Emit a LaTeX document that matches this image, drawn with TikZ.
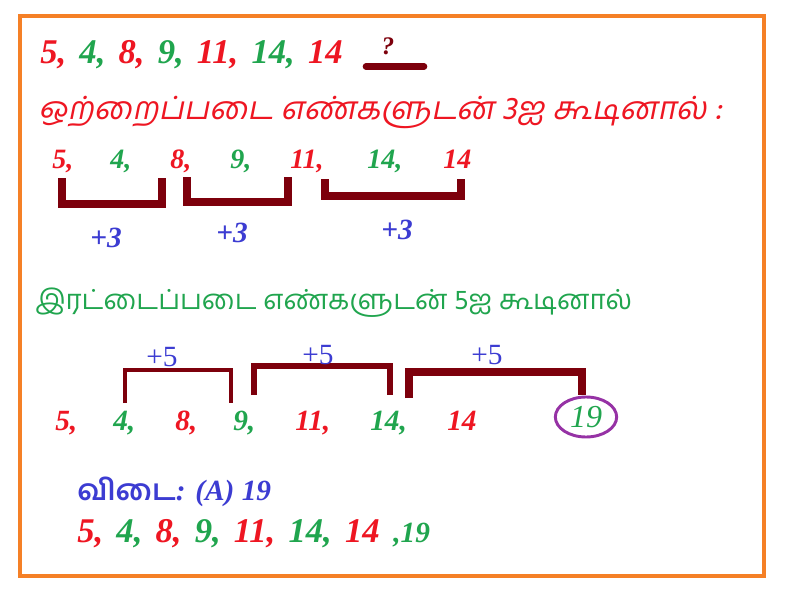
\documentclass[tikz,border=0pt]{standalone}
\usepackage{fontspec}
\setmainfont{Liberation Serif}
\newfontfamily\tamilfont[Script=Tamil]{Hind Madurai}
\newfontfamily\tamilslant[Script=Tamil,FakeSlant=0.2]{Hind Madurai}
\usetikzlibrary{shapes.geometric}

\definecolor{numred}{RGB}{238,22,34}
\definecolor{numgreen}{RGB}{32,165,78}
\definecolor{addblue}{RGB}{60,60,210}
\definecolor{darkred}{RGB}{125,0,12}
\definecolor{ringpurple}{RGB}{150,50,165}
\definecolor{frameorange}{RGB}{245,128,38}

\newcommand{\numr}[1]{\textcolor{numred}{#1}}
\newcommand{\numg}[1]{\textcolor{numgreen}{#1}}

\begin{document}
\begin{tikzpicture}[x=0.75pt,y=-0.75pt,
      every node/.style={inner sep=0pt},
      seq/.style={anchor=base west,
        font=\fontsize{26}{26}\selectfont\bfseries\itshape,
        execute at begin node={\spaceskip=0.38em\relax}},
      num/.style={anchor=base west,font=\fontsize{21}{21}\selectfont\bfseries\itshape},
      numlow/.style={anchor=base west,font=\fontsize{22}{22}\selectfont\bfseries\itshape},
      plusthree/.style={text=addblue,font=\fontsize{22}{22}\selectfont\bfseries\itshape},
      plusfive/.style={text=addblue,font=\fontsize{22}{22}\selectfont},
      bracket/.style={draw=darkred,line width=6pt},
      bracketthin/.style={draw=darkred,line width=3.5pt}]
    \useasboundingbox (0,0) rectangle (800,600);
    \fill[white] (0,0) rectangle (800,600);
    \draw[frameorange,line width=3pt] (20,16) rectangle (764,576);

    % the series and the blank
    \node[seq] (series) at (40,63)
      {\numr{5,} \numg{4,} \numr{8,} \numg{9,} \numr{11,} \numg{14,} \numr{14}};
    \draw[darkred,line width=5pt,line cap=round] (366,66.5) -- (424,66.5);
    \node[text=darkred,font=\fontsize{19}{19}\selectfont\bfseries\itshape]
      (blank) at (388,46) {?};

    % odd places: add 3
    \node[anchor=base west,text=numred,font=\fontsize{24}{24}\tamilslant]
      (oddtitle) at (38,119) {ஒற்றைப்படை எண்களுடன் 3ஐ கூடினால் :};

    \node[num,text=numred] (oa) at (52,168) {5,};
    \node[num,text=numgreen] (ob) at (110,168) {4,};
    \node[num,text=numred] (oc) at (170,168) {8,};
    \node[num,text=numgreen] (od) at (230,168) {9,};
    \node[num,text=numred] (oe) at (290,168) {11,};
    \node[num,text=numgreen] (of) at (367,168) {14,};
    \node[num,text=numred] (og) at (443,168) {14};

    \draw[bracket] (62,178) -- (62,203.5) -- (162,203.5) -- (162,178);
    \draw[bracket] (187,177) -- (187,201.5) -- (288,201.5) -- (288,177);
    \draw[bracket] (325,179) -- (325,195.5) -- (461,195.5) -- (461,179);

    \node[plusthree] (addone) at (106,238) {+3};
    \node[plusthree] (addtwo) at (232,233) {+3};
    \node[plusthree] (addthree) at (397,230) {+3};

    % even places: add 5
    \node[anchor=base west,text=numgreen,font=\fontsize{20.7}{21}\tamilfont]
      (eventitle) at (35,309) {இரட்டைப்படை எண்களுடன் 5ஐ கூடினால்};

    \draw[bracketthin] (125,403) -- (125,370) -- (231,370) -- (231,403);
    \draw[bracketthin,line width=4pt] (254,395) -- (254,366) -- (390,366) -- (390,395);
    \draw[bracketthin,line width=5.5pt] (409,398) -- (409,372) -- (582,372) -- (582,395);

    \node[plusfive] (addfour) at (162,357) {+5};
    \node[plusfive] (addfive) at (318,355) {+5};
    \node[plusfive] (addsix) at (487,355) {+5};

    \node[numlow,text=numred] (ea) at (55,430) {5,};
    \node[numlow,text=numgreen] (eb) at (113,430) {4,};
    \node[numlow,text=numred] (ec) at (175,430) {8,};
    \node[numlow,text=numgreen] (ed) at (233,430) {9,};
    \node[numlow,text=numred] (ee) at (295,430) {11,};
    \node[numlow,text=numgreen] (ef) at (370,430) {14,};
    \node[numlow,text=numred] (eg) at (447,430) {14};
    \node[draw=ringpurple,line width=2.2pt,ellipse,minimum width=46pt,
      minimum height=30pt,text=numgreen,font=\fontsize{24}{24}\selectfont\itshape]
      (answer) at (586,417) {19};

    % answer
    \node[anchor=base west,text=addblue,font=\fontsize{22}{22}\selectfont\bfseries\itshape]
      (result) at (77,500) {{\tamilfont\bfseries விடை}: (A) 19};
    \node[seq] (final) at (77,542)
      {\numr{5,} \numg{4,} \numr{8,} \numg{9,} \numr{11,} \numg{14,} \numr{14}};
    \node[anchor=base west,text=numgreen,font=\fontsize{22}{22}\selectfont\bfseries\itshape]
      (last) at (393,542) {,19};
  \end{tikzpicture}
\end{document}
